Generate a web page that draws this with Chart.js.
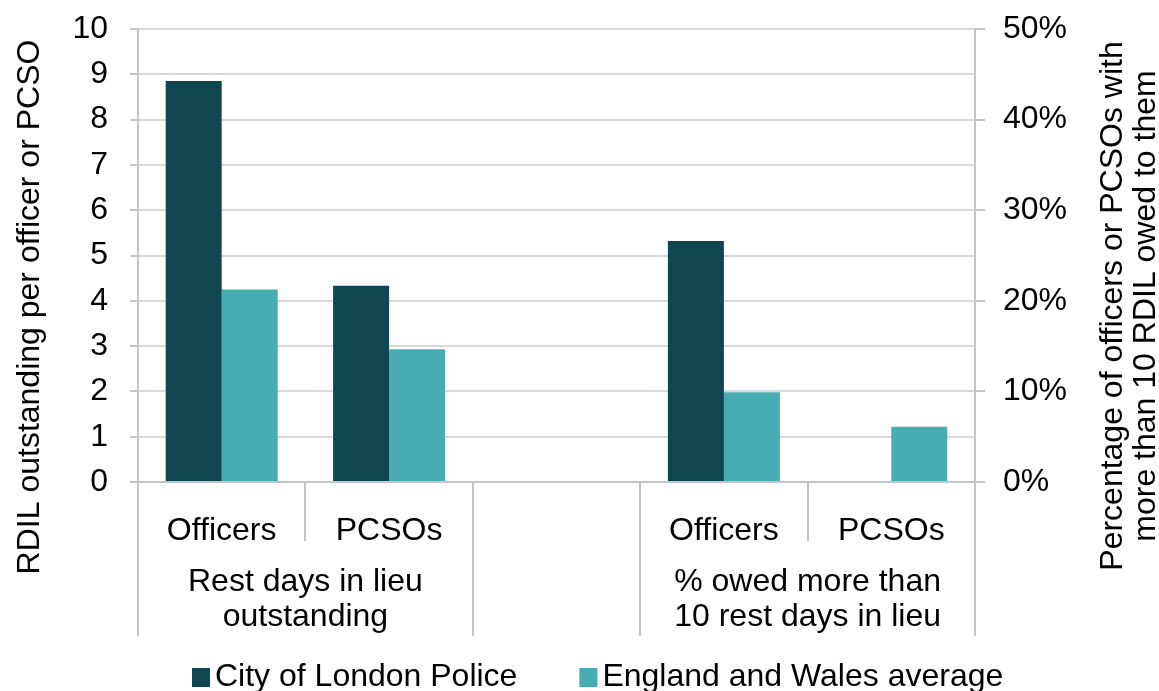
<!DOCTYPE html>
<html><head><meta charset="utf-8">
<script src="https://cdn.jsdelivr.net/npm/chart.js@4"></script>
<style>html,body{margin:0;padding:0;background:#fff}canvas{display:block}</style>
</head><body>
<canvas id="c" width="1159" height="691"></canvas>
<script>
// ---- data ----
const categories = ["Officers", "PCSOs", "", "Officers", "PCSOs"];
const groupLabels = [["Rest days in lieu", "outstanding"], [], ["% owed more than", "10 rest days in lieu"]];
const groupSizes = [2, 1, 2];
const seriesNames = ["City of London Police", "England and Wales average"];
const cityRdil = [8.85, 4.33, null, null, null];
const ewRdil = [4.25, 2.93, null, null, null];
const cityPct = [null, null, null, 26.6, null];
const ewPct = [null, null, null, 9.9, 6.1];
const leftTicks = [0, 1, 2, 3, 4, 5, 6, 7, 8, 9, 10];
const rightTicks = [0, 10, 20, 30, 40, 50];
const leftTitle = "RDIL outstanding per officer or PCSO";
const rightTitle = ["Percentage of officers or PCSOs with", "more than 10 RDIL owed to them"];

// ---- style ----
const FONT = '"Liberation Sans", Arial, Helvetica, sans-serif';
const FS = 32;
const C_CITY = '#10464F';
const C_EW = '#48ADB2';
const AXIS = '#c4c4c4';
const GRID = '#d9d9d9';

Chart.defaults.font.family = FONT;
Chart.defaults.font.size = FS;
Chart.defaults.color = '#000';

const decor = {
  id: 'decor',
  afterDraw(chart) {
    const ctx = chart.ctx;
    const xs = chart.scales.x;
    const area = chart.chartArea;
    const n = categories.length;
    const step = xs.getPixelForValue(1) - xs.getPixelForValue(0);
    const edge = i => xs.getPixelForValue(0) - step / 2 + i * step;
    ctx.save();
    // separators
    const fullEdges = [0];
    let acc = 0;
    groupSizes.forEach(s => { acc += s; fullEdges.push(acc); });
    ctx.strokeStyle = AXIS;
    ctx.lineWidth = 2;
    for (let i = 0; i <= n; i++) {
      const px = Math.round(edge(i));
      const full = fullEdges.includes(i);
      ctx.beginPath();
      ctx.moveTo(px, area.bottom);
      ctx.lineTo(px, full ? 636 : 541);
      ctx.stroke();
    }
    // group labels
    ctx.fillStyle = '#000';
    ctx.font = FS + 'px ' + FONT;
    ctx.textAlign = 'center';
    ctx.textBaseline = 'middle';
    let start = 0;
    groupSizes.forEach((s, g) => {
      const cx = (edge(start) + edge(start + s)) / 2;
      groupLabels[g].forEach((line, k) => ctx.fillText(line, cx, 582 + k * 35));
      start += s;
    });
    // axis titles (rotated, reading bottom to top)
    ctx.save();
    ctx.translate(30, 307);
    ctx.rotate(-Math.PI / 2);
    ctx.fillText(leftTitle, 0, 0);
    ctx.restore();
    rightTitle.forEach((line, k) => {
      ctx.save();
      ctx.translate(1113 + k * 33, 306);
      ctx.rotate(-Math.PI / 2);
      ctx.fillText(line, 0, 0);
      ctx.restore();
    });
    // legend
    const colors = [C_CITY, C_EW];
    let lx = 192;
    ctx.textAlign = 'left';
    seriesNames.forEach((name, i) => {
      ctx.fillStyle = colors[i];
      ctx.fillRect(lx, 668, 18, 19);
      ctx.fillStyle = '#000';
      ctx.fillText(name, lx + 23, 677);
      lx += 23 + ctx.measureText(name).width + 62;
    });
    ctx.restore();
  }
};

new Chart(document.getElementById('c'), {
  type: 'bar',
  data: {
    labels: categories,
    datasets: [
      { label: seriesNames[0], data: cityRdil, backgroundColor: C_CITY, yAxisID: 'y', stack: 'a' },
      { label: seriesNames[1], data: ewRdil, backgroundColor: C_EW, yAxisID: 'y', stack: 'b' },
      { label: seriesNames[0], data: cityPct, backgroundColor: C_CITY, yAxisID: 'y1', stack: 'a' },
      { label: seriesNames[1], data: ewPct, backgroundColor: C_EW, yAxisID: 'y1', stack: 'b' }
    ]
  },
  options: {
    responsive: false,
    animation: false,
    categoryPercentage: 0.669,
    barPercentage: 1,
    layout: { padding: { top: 29, left: 0, right: 0, bottom: 0 } },
    plugins: { legend: { display: false }, tooltip: { enabled: false } },
    scales: {
      x: {
        type: 'category',
        offset: true,
        grid: { display: false },
        border: { display: true, color: AXIS, width: 2 },
        ticks: { padding: 22, color: '#000', maxRotation: 0, autoSkip: false },
        afterFit(s) { s.height = 691 - 482; s.paddingLeft = 0; s.paddingRight = 0; }
      },
      y: {
        position: 'left',
        min: 0, max: 10,
        stacked: false,
        afterBuildTicks(s) { s.ticks = leftTicks.map(v => ({ value: v })); },
        ticks: { padding: 22, color: '#000' },
        grid: { color: GRID, lineWidth: 2, tickLength: 8, tickColor: AXIS },
        border: { color: AXIS, width: 2 },
        afterFit(s) { s.width = 138; s.paddingTop = 0; s.paddingBottom = 0; }
      },
      y1: {
        position: 'right',
        min: 0, max: 50,
        stacked: false,
        afterBuildTicks(s) { s.ticks = rightTicks.map(v => ({ value: v })); },
        ticks: { padding: 18, color: '#000', callback: v => v + '%' },
        grid: { drawOnChartArea: false, tickLength: 10, color: AXIS, lineWidth: 2 },
        border: { color: AXIS, width: 2 },
        afterFit(s) { s.width = 1159 - 975; s.paddingTop = 0; s.paddingBottom = 0; }
      }
    }
  },
  plugins: [decor]
});
</script>
</body></html>
